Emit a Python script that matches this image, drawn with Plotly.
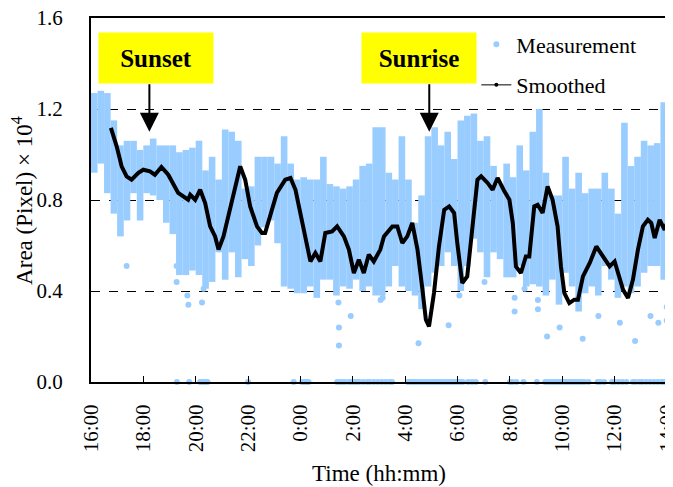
import plotly.graph_objects as go

# time axis: hours counted from midnight of the first day (16 -> 16:00, 38 -> 14:00 next day)
tick_hours = [16, 18, 20, 22, 24, 26, 28, 30, 32, 34, 36, 38]
tick_labels = ["16:00", "18:00", "20:00", "22:00", "0:00", "2:00", "4:00",
               "6:00", "8:00", "10:00", "12:00", "14:00"]

# measurement cloud, read per 15-minute slot (upper / lower edge of the dots, x 10^4 pixel)
slot_start = 16.0
slot_step = 0.25
meas_high = [1.27, 1.28, 1.27, 1.15, 1.04, 1.06, 1.06, 1.02, 1.04, 1.07, 1.04, 1.04,
             1.04, 1.01, 1.02, 1.03, 1.06, 0.93, 0.99, 0.89, 1.11, 1.10, 1.06, 0.85,
             0.86, 0.99, 0.99, 0.99, 0.96, 1.08, 0.96, 0.89, 0.90, 0.89, 0.89, 0.99,
             0.87, 0.86, 0.85, 0.86, 0.89, 0.95, 0.96, 1.12, 1.12, 0.92, 0.89, 1.08,
             0.89, 0.70, 0.82, 1.08, 1.12, 1.04, 1.10, 0.98, 1.15, 1.17, 1.18, 1.06,
             1.08, 0.95, 0.87, 0.96, 0.90, 1.04, 0.93, 1.10, 1.20, 0.92, 0.82, 0.82,
             0.99, 0.85, 0.92, 0.83, 0.85, 0.85, 0.92, 0.85, 0.74, 1.14, 0.95, 0.99,
             1.06, 1.04, 1.05, 1.23]
meas_low = [0.92, 0.96, 0.83, 0.74, 0.64, 0.71, 0.83, 0.71, 0.83, 0.82, 0.80, 0.70,
            0.65, 0.47, 0.47, 0.49, 0.47, 0.41, 0.44, 0.57, 0.45, 0.57, 0.46, 0.54,
            0.51, 0.60, 0.68, 0.71, 0.61, 0.42, 0.41, 0.39, 0.39, 0.42, 0.37, 0.45,
            0.45, 0.38, 0.42, 0.41, 0.45, 0.40, 0.42, 0.38, 0.38, 0.42, 0.51, 0.42,
            0.40, 0.38, 0.32, 0.42, 0.48, 0.51, 0.57, 0.51, 0.40, 0.51, 0.63, 0.57,
            0.46, 0.57, 0.54, 0.46, 0.46, 0.51, 0.42, 0.43, 0.42, 0.38, 0.45, 0.34,
            0.48, 0.42, 0.31, 0.39, 0.42, 0.38, 0.51, 0.45, 0.37, 0.42, 0.39, 0.42,
            0.48, 0.51, 0.51, 0.45]

# isolated low measurements
outlier_hours = [17.36, 19.27, 19.27, 19.68, 19.72, 20.24, 20.30, 25.45, 25.47, 25.47,
                 25.92, 27.06, 27.14, 28.51, 29.66, 30.07, 31.03, 32.18, 32.18, 32.56,
                 33.07, 33.07, 33.42, 33.90, 34.78, 35.38, 36.20, 36.78, 37.37, 37.67,
                 37.99, 37.99]
outlier_values = [0.51, 0.51, 0.44, 0.38, 0.34, 0.35, 0.41, 0.35, 0.24, 0.16,
                  0.29, 0.36, 0.37, 0.17, 0.25, 0.38, 0.44, 0.37, 0.31, 0.41,
                  0.36, 0.32, 0.20, 0.24, 0.19, 0.29, 0.26, 0.18, 0.29, 0.26,
                  0.33, 0.27]

# times where the measured area dropped to zero
zero_hours = [19.28, 19.75, 20.17, 20.25, 20.35, 20.45, 22.00, 23.74, 24.06, 24.15,
              24.25, 24.31, 25.40, 25.50, 25.60, 25.70, 25.85, 25.95, 26.05, 26.15,
              26.25, 26.40, 26.55, 26.65, 26.80, 26.95, 27.10, 27.25, 27.40, 27.50,
              28.10, 28.20, 28.30, 28.40, 28.50, 28.60, 28.70, 28.80, 28.90, 29.00,
              29.10, 29.20, 29.30, 29.40, 29.50, 29.60, 29.70, 29.80, 29.90, 30.00,
              30.10, 30.20, 30.40, 30.55, 30.70, 31.06, 32.00, 32.10, 32.25, 32.52,
              33.03, 33.35, 33.45, 33.55, 33.65, 33.75, 33.85, 33.95, 34.05, 34.15,
              34.25, 34.35, 34.45, 34.55, 34.65, 34.75, 34.85, 35.00, 35.35, 35.45,
              35.60, 35.90, 36.00, 36.15, 36.30, 36.45, 36.70, 36.80, 36.95, 37.05,
              37.20, 37.35, 37.50, 37.65, 37.80, 37.90]

# smoothed curve
smooth_hours = [16.76, 16.98, 17.17, 17.36, 17.55, 17.81, 18.00, 18.25, 18.44, 18.69,
                18.95, 19.14, 19.33, 19.71, 19.79, 19.98, 20.17, 20.36, 20.55, 20.74,
                20.87, 21.06, 21.25, 21.51, 21.70, 21.89, 22.08, 22.34, 22.53, 22.65,
                22.91, 23.10, 23.42, 23.62, 23.81, 24.00, 24.19, 24.38, 24.57, 24.76,
                24.95, 25.21, 25.40, 25.66, 25.85, 26.04, 26.23, 26.42, 26.61, 26.80,
                27.05, 27.19, 27.51, 27.70, 27.89, 28.08, 28.27, 28.47, 28.66, 28.79,
                28.91, 29.10, 29.29, 29.49, 29.68, 29.87, 29.99, 30.18, 30.37, 30.56,
                30.76, 30.90, 31.15, 31.34, 31.53, 31.79, 31.98, 32.11, 32.23, 32.42,
                32.61, 32.74, 32.93, 33.06, 33.25, 33.44, 33.63, 33.82, 33.95, 34.08,
                34.27, 34.46, 34.60, 34.79, 35.05, 35.30, 35.55, 35.81, 36.00, 36.19,
                36.32, 36.51, 36.70, 36.89, 37.08, 37.27, 37.40, 37.53, 37.72, 37.91,
                38.00]
smooth_values = [1.117, 1.036, 0.948, 0.904, 0.889, 0.919, 0.933, 0.926, 0.911, 0.945,
                 0.911, 0.875, 0.831, 0.801, 0.823, 0.801, 0.845, 0.787, 0.684, 0.640,
                 0.582, 0.640, 0.728, 0.845, 0.948, 0.889, 0.772, 0.684, 0.655, 0.655,
                 0.757, 0.831, 0.889, 0.897, 0.845, 0.743, 0.640, 0.530, 0.567, 0.530,
                 0.655, 0.662, 0.684, 0.640, 0.582, 0.479, 0.538, 0.479, 0.560, 0.530,
                 0.582, 0.640, 0.684, 0.684, 0.611, 0.640, 0.699, 0.582, 0.406, 0.274,
                 0.244, 0.391, 0.596, 0.757, 0.772, 0.743, 0.611, 0.435, 0.464, 0.684,
                 0.889, 0.904, 0.875, 0.845, 0.897, 0.838, 0.801, 0.699, 0.508, 0.479,
                 0.552, 0.552, 0.772, 0.779, 0.743, 0.860, 0.801, 0.684, 0.508, 0.391,
                 0.347, 0.362, 0.362, 0.464, 0.523, 0.596, 0.552, 0.508, 0.530, 0.464,
                 0.406, 0.369, 0.450, 0.582, 0.684, 0.713, 0.699, 0.633, 0.713, 0.669,
                 0.699]

FONT = "Liberation Serif"
BLUE = "#99CCFF"

# vertical streaks of the dense measurement cloud, one per slot
streak_x, streak_y = [], []
for i, (lo, hi) in enumerate(zip(meas_low, meas_high)):
    t = slot_start + slot_step * i + slot_step / 2
    streak_x += [t, t, None]
    streak_y += [lo, hi, None]

fig = go.Figure()

fig.add_trace(go.Scatter(
    x=streak_x, y=streak_y, mode='lines',
    line=dict(color=BLUE, width=6.6),
    showlegend=False, hoverinfo='skip'
))

fig.add_trace(go.Scatter(
    x=outlier_hours + zero_hours,
    y=outlier_values + [0.0] * len(zero_hours),
    mode='markers', name='Measurement',
    marker=dict(color=BLUE, size=6),
    cliponaxis=False, legendgroup='m'
))

fig.add_trace(go.Scatter(
    x=smooth_hours, y=smooth_values, mode='lines',
    line=dict(color='black', width=4),
    showlegend=False
))

# legend entry for the smoothed curve (thin line with a dot, as in the original legend)
fig.add_trace(go.Scatter(
    x=[None], y=[None], mode='lines+markers', name='Smoothed',
    line=dict(color='black', width=1), marker=dict(color='black', size=4),
    legendgroup='s'
))

# Sunset / Sunrise labels with arrows
for label, box_x, arrow_x in [("Sunset", 18.49, 18.23), ("Sunrise", 28.53, 28.92)]:
    fig.add_annotation(
        x=box_x, y=1.425, xref='x', yref='y', text="<b>" + label + "</b>",
        showarrow=False, bgcolor='#FFFF00', width=112, height=48,
        font=dict(family=FONT, size=25, color='black')
    )
    fig.add_annotation(
        x=arrow_x, y=1.10, xref='x', yref='y', text="",
        showarrow=True, ax=0, ay=-49, arrowhead=2, arrowsize=1.9,
        arrowwidth=2, arrowcolor='black'
    )

# axis titles
fig.add_annotation(
    x=-0.12, y=0.5, xref='paper', yref='paper', textangle=-90,
    text="Area (Pixel) × 10<sup>4</sup>", showarrow=False,
    xanchor='center', yanchor='middle', font=dict(family=FONT, size=23)
)
fig.add_annotation(
    x=0.5, y=-0.252, xref='paper', yref='paper',
    text="Time (hh:mm)", showarrow=False,
    xanchor='center', yanchor='middle', font=dict(family=FONT, size=23)
)

# grey right-hand frame line
fig.add_shape(type='line', xref='paper', yref='paper', x0=1, x1=1, y0=0, y1=1,
              line=dict(color='#808080', width=2))

# the page puts the figure 8 px in from the top-left corner, so the figure is
# sized 8 px smaller than the 673x487 window
fig.update_layout(
    width=665, height=479,
    margin=dict(l=83, r=6, t=10, b=105),
    plot_bgcolor='white', paper_bgcolor='white',
    font=dict(family=FONT, size=21, color='black'),
    legend=dict(x=0.669, y=0.985, xanchor='left', yanchor='top',
                bgcolor='rgba(0,0,0,0)', tracegroupgap=9,
                traceorder='grouped', font=dict(size=22)),
    xaxis=dict(
        range=[16, 38], tickvals=tick_hours, ticktext=tick_labels,
        tickangle=-90, ticks='inside', ticklen=6, tickcolor='black',
        ticklabelstandoff=12, automargin=False, ticklabeloverflow='allow',
        showline=True, linecolor='black', linewidth=2, mirror=True,
        showgrid=False, zeroline=False
    ),
    yaxis=dict(
        range=[0, 1.6], tickvals=[0, 0.4, 0.8, 1.2, 1.6], tickformat='.1f',
        ticks='', ticklabelstandoff=22, automargin=False, ticklabeloverflow='allow',
        showline=True, linecolor='black', linewidth=2, mirror=False,
        showgrid=True, gridcolor='black', griddash='dash', gridwidth=1,
        zeroline=False
    ),
)

fig.write_html("out.html")
